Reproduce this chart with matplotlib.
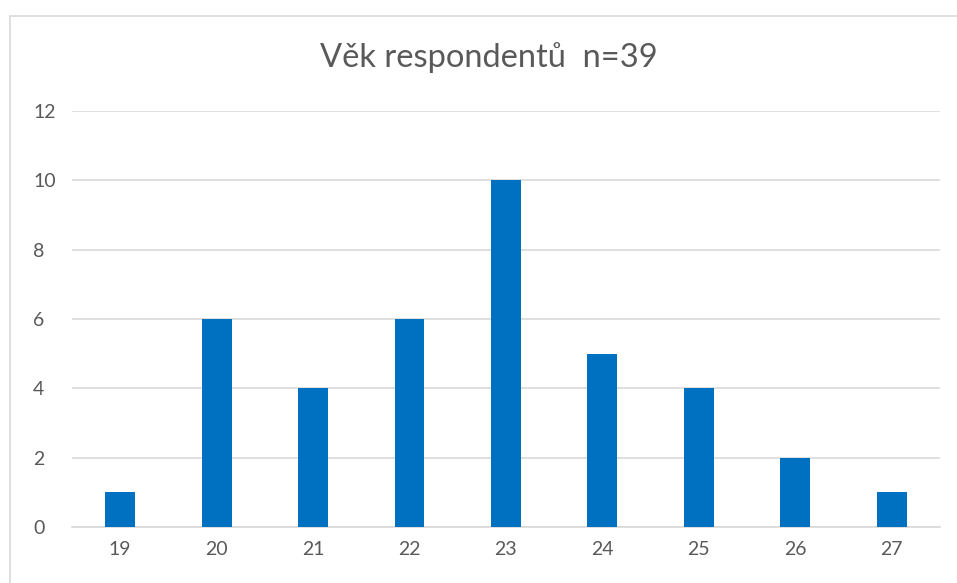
import matplotlib.pyplot as plt
from matplotlib.patches import Rectangle

ages = ['19', '20', '21', '22', '23', '24', '25', '26', '27']
counts = [1, 6, 4, 6, 10, 5, 4, 2, 1]
yticks = [0, 2, 4, 6, 8, 10, 12]

plt.rcParams['font.family'] = ['Lato', 'DejaVu Sans']
text_col = '#595959'

fig = plt.figure(figsize=(9.57, 5.83), dpi=100)
ax = fig.add_axes([0.0752, 0.096, 0.9068, 0.7136])

# chart border
fig.patches.append(Rectangle((10 / 957, -0.01), 1.0, 0.99 - 10 / 583 + 0.01,
                             transform=fig.transFigure, fill=False,
                             edgecolor='#D9D9D9', linewidth=1.2))

x = range(len(ages))
ax.bar(x, counts, width=0.31, color='#0070C0', zorder=3)

ax.set_xlim(-0.5, len(ages) - 0.5)
ax.set_ylim(0, 12)
ax.set_yticks(yticks)
ax.set_xticks(list(x))
ax.set_xticklabels(ages)
ax.yaxis.grid(True, color='#D9D9D9', linewidth=1.2, zorder=0)
ax.tick_params(axis='both', length=0, labelsize=14, colors=text_col, pad=10)
ax.tick_params(axis='y', pad=28)
for lab in ax.get_yticklabels():
    lab.set_horizontalalignment('left')
for side in ['top', 'right', 'left']:
    ax.spines[side].set_visible(False)
ax.spines['bottom'].set_color('#D9D9D9')
ax.spines['bottom'].set_linewidth(1.2)

fig.text(0.511, 0.902, 'Věk respondentů  n=39', ha='center', va='center',
         fontsize=23.5, color=text_col)

fig.savefig('out.png', dpi=100)
